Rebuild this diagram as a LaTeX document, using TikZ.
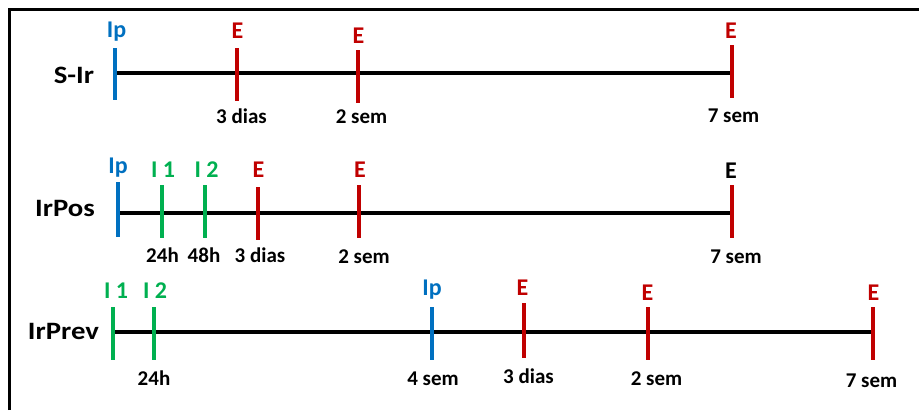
\documentclass[tikz,border=0pt]{standalone}
\usepackage{fontspec}
\setmainfont{Carlito}
\newfontfamily\rowfont[FakeStretch=1.15]{Carlito}

\definecolor{ipblue}{HTML}{0070C0}
\definecolor{ered}{HTML}{C00000}
\definecolor{igreen}{HTML}{00B050}

\tikzset{
  frameline/.style={line width=3pt, black},
  axisline/.style={line width=4.5pt, black},
  tickline/.style={line width=4.5pt},
  lbl/.style={anchor=base, inner sep=0pt, font=\bfseries\fontsize{21}{21}\selectfont},
  toplbl/.style={anchor=base, inner sep=0pt, font=\bfseries\fontsize{24}{24}\selectfont},
  rowlbl/.style={anchor=base, inner sep=0pt, font=\rowfont\bfseries\fontsize{25}{25}\selectfont},
}

\begin{document}
\begin{tikzpicture}[x=1pt, y=-1pt]
\useasboundingbox (0,0) rectangle (919,410);

% open frame: left and top edges
\coordinate (fbl) at (9.5,410);
\coordinate (ftl) at (9.5,9.5);
\coordinate (ftr) at (919,9.5);
\draw[frameline] (fbl) -- (ftl) -- (ftr);

% ---------- S-Ir ----------
\coordinate (aS) at (115,73);
\coordinate (bS) at (732,73);
\draw[axisline] (aS) -- (bS);
\foreach \n/\x/\t/\b/\c in {s1/115/48/100/ipblue, s2/237/48/101/ered, s3/358/50/103/ered, s4/732/45/98/ered}{
  \coordinate (\n t) at (\x,\t);
  \coordinate (\n b) at (\x,\b);
  \draw[tickline,\c] (\n t) -- (\n b);
}
\node[rowlbl] (lS) at (74,83) {S-Ir};
\node[toplbl, ipblue] (s1l) at (116.5,37) {Ip};
\node[toplbl, ered] (s2l) at (237.5,38) {E};
\node[toplbl, ered] (s3l) at (358.5,43) {E};
\node[toplbl, ered] (s4l) at (731,38) {E};
\node[lbl] (s2d) at (241.5,123) {3 dias};
\node[lbl] (s3d) at (361.5,123) {2 sem};
\node[lbl] (s4d) at (733.5,122) {7 sem};

% ---------- IrPos ----------
\coordinate (aP) at (118,213);
\coordinate (bP) at (732,213);
\draw[axisline] (aP) -- (bP);
\foreach \n/\x/\t/\b/\c in {p1/118/182/237/ipblue, p2/162/185/238/igreen, p3/205/185/238/igreen, p4/258/187/240/ered, p5/359/185/238/ered, p6/732/185/238/ered}{
  \coordinate (\n t) at (\x,\t);
  \coordinate (\n b) at (\x,\b);
  \draw[tickline,\c] (\n t) -- (\n b);
}
\node[rowlbl] (lP) at (65,216) {IrPos};
\node[toplbl, ipblue] (p1l) at (118,173) {Ip};
\node[toplbl, igreen] (p2l) at (163,177) {I 1};
\node[toplbl, igreen] (p3l) at (206.5,177) {I 2};
\node[toplbl, ered] (p4l) at (258.5,177) {E};
\node[toplbl, ered] (p5l) at (360,177) {E};
\node[toplbl] (p6l) at (731,178) {E};
\node[lbl] (p2d) at (162.5,262) {24h};
\node[lbl] (p3d) at (204,262) {48h};
\node[lbl] (p4d) at (260,262) {3 dias};
\node[lbl] (p5d) at (364,263) {2 sem};
\node[lbl] (p6d) at (736,263) {7 sem};

% ---------- IrPrev ----------
\coordinate (aR) at (113,332);
\coordinate (bR) at (873,332);
\draw[axisline] (aR) -- (bR);
\foreach \n/\x/\t/\b/\c in {q1/113/307/360/igreen, q2/154/307/360/igreen, q3/432/307/360/ipblue, q4/524/303/358/ered, q5/648/307/360/ered, q6/873/307/360/ered}{
  \coordinate (\n t) at (\x,\t);
  \coordinate (\n b) at (\x,\b);
  \draw[tickline,\c] (\n t) -- (\n b);
}
\node[rowlbl] (lR) at (63.5,339) {IrPrev};
\node[toplbl, igreen] (q1l) at (116,298) {I 1};
\node[toplbl, igreen] (q2l) at (155,298) {I 2};
\node[toplbl, ipblue] (q3l) at (432,295) {Ip};
\node[toplbl, ered] (q4l) at (522.5,295) {E};
\node[toplbl, ered] (q5l) at (647.5,300) {E};
\node[toplbl, ered] (q6l) at (873.5,300) {E};
\node[lbl] (q2d) at (154,385) {24h};
\node[lbl] (q3d) at (433,385) {4 sem};
\node[lbl] (q4d) at (528.5,383) {3 dias};
\node[lbl] (q5d) at (656.5,385) {2 sem};
\node[lbl] (q6d) at (871.5,387) {7 sem};
\end{tikzpicture}
\end{document}
